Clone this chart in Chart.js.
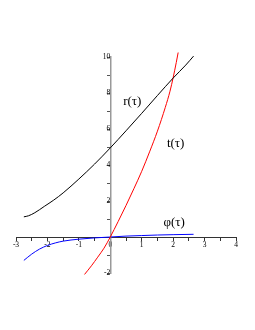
<!DOCTYPE html>
<html>
<head>
<meta charset="utf-8">
<script src="https://cdn.jsdelivr.net/npm/chart.js@4/dist/chart.umd.min.js"></script>
<style>
    html, body { margin: 0; padding: 0; background: #fff; }
    canvas { display: block; }
</style>
</head>
<body>
<canvas id="plotCanvas" width="255" height="330"></canvas>
<script>
// r(tau) - black
const rTau = [-2.75, -2.6, -2.4, -2.1, -1.8, -1.5, -1.0, -0.5, 0, 0.5, 1.0, 1.5, 2.0, 2.4, 2.65];
const rVal = [1.12, 1.18, 1.35, 1.7, 2.05, 2.45, 3.22, 4.05, 4.95, 5.9, 6.87, 7.86, 8.83, 9.55, 10.05];

// t(tau) - red
const tTau = [-0.82, -0.6, -0.4, -0.2, 0, 0.25, 0.5, 0.75, 1.0, 1.25, 1.5, 1.75, 1.9, 2.0, 2.1, 2.16];
const tVal = [-2.08, -1.6, -1.12, -0.62, 0, 0.86, 1.75, 2.68, 3.65, 4.73, 5.88, 7.2, 8.1, 8.85, 9.7, 10.25];

// phi(tau) - blue
const phiTau = [-2.75, -2.5, -2.25, -2.0, -1.75, -1.5, -1.0, -0.5, 0, 0.5, 1.0, 1.5, 2.0, 2.65];
const phiVal = [-1.3, -0.95, -0.67, -0.47, -0.33, -0.23, -0.12, -0.05, 0, 0.05, 0.08, 0.11, 0.13, 0.15];

// curve labels, placed in data coordinates
const curveLabels = ['r(τ)', 't(τ)', 'φ(τ)'];
const labelX = [0.7, 2.08, 2.03];
const labelY = [7.5, 5.17, 0.82];

function toPoints(xs, ys) {
    return xs.map((x, i) => ({ x: x, y: ys[i] }));
}

const curveLabelPlugin = {
    id: 'curveLabels',
    afterDatasetsDraw(chart) {
        const ctx = chart.ctx;
        const xs = chart.scales.x;
        const ys = chart.scales.y;
        ctx.save();
        ctx.font = '13px "Liberation Serif"';
        ctx.fillStyle = '#000';
        ctx.textAlign = 'center';
        ctx.textBaseline = 'middle';
        curveLabels.forEach((txt, i) => {
            ctx.fillText(txt, xs.getPixelForValue(labelX[i]), ys.getPixelForValue(labelY[i]));
        });
        ctx.restore();
    }
};

const tickFont = { family: 'Liberation Serif', size: 7.5 };

const ctx = document.getElementById('plotCanvas').getContext('2d');
new Chart(ctx, {
    type: 'scatter',
    data: {
        datasets: [
            {
                label: 'r',
                data: toPoints(rTau, rVal),
                showLine: true,
                borderColor: '#000000',
                borderWidth: 1,
                pointRadius: 0,
                cubicInterpolationMode: 'monotone',
                clip: false
            },
            {
                label: 't',
                data: toPoints(tTau, tVal),
                showLine: true,
                borderColor: '#ff0000',
                borderWidth: 1,
                pointRadius: 0,
                cubicInterpolationMode: 'monotone',
                clip: false
            },
            {
                label: 'phi',
                data: toPoints(phiTau, phiVal),
                showLine: true,
                borderColor: '#0000ff',
                borderWidth: 1,
                pointRadius: 0,
                cubicInterpolationMode: 'monotone',
                clip: false
            }
        ]
    },
    options: {
        responsive: false,
        animation: false,
        devicePixelRatio: 1,
        layout: {
            padding: { left: 16, right: 19, top: 57, bottom: 57 }
        },
        plugins: {
            legend: { display: false },
            tooltip: { enabled: false }
        },
        scales: {
            x: {
                type: 'linear',
                min: -3,
                max: 4,
                position: { y: 0 },
                border: { color: '#333', width: 1 },
                grid: { drawOnChartArea: false, drawTicks: true, tickLength: 3, color: '#333' },
                ticks: {
                    stepSize: 0.5,
                    autoSkip: false,
                    maxRotation: 0,
                    padding: 1,
                    color: '#000',
                    font: tickFont,
                    callback: v => Number.isInteger(v) ? String(v) : ''
                }
            },
            y: {
                type: 'linear',
                min: -2,
                max: 10,
                position: { x: 0 },
                border: { color: '#999', width: 1.5 },
                grid: { drawOnChartArea: false, drawTicks: true, tickLength: 3, color: '#555' },
                ticks: {
                    stepSize: 1,
                    autoSkip: false,
                    padding: 1,
                    color: '#000',
                    font: tickFont,
                    callback: v => (v !== 0 && v % 2 === 0) ? String(v) : ''
                }
            }
        }
    },
    plugins: [curveLabelPlugin]
});
</script>
</body>
</html>
